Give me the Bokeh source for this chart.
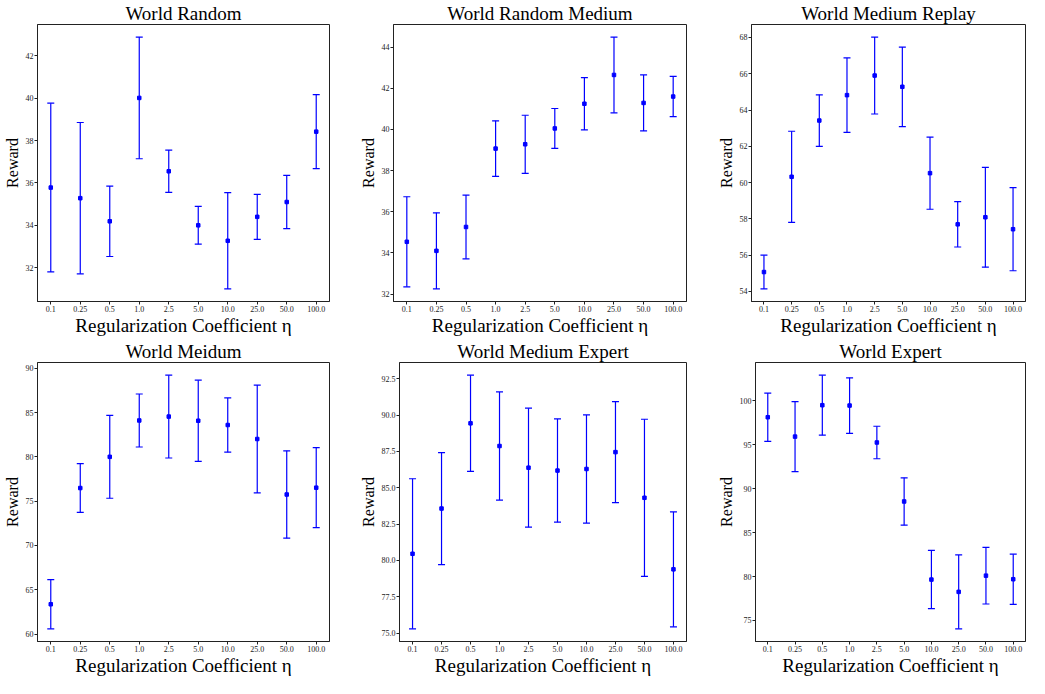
from bokeh.plotting import figure
from bokeh.models import ColumnDataSource, Whisker, TeeHead, Range1d, FactorRange, FixedTicker, PrintfTickFormatter
from bokeh.layouts import row, column
from bokeh.embed import file_html
from bokeh.resources import INLINE

etas = ["0.1", "0.25", "0.5", "1.0", "2.5", "5.0", "10.0", "25.0", "50.0", "100.0"]

titles = ["World Random", "World Random Medium", "World Medium Replay",
          "World Meidum", "World Medium Expert", "World Expert"]

random_mean = [35.78, 35.28, 34.19, 40.01, 36.55, 34.00, 33.27, 34.40, 35.10, 38.42]
random_err = [3.98, 3.57, 1.66, 2.87, 1.00, 0.89, 2.27, 1.06, 1.26, 1.75]

random_medium_mean = [34.54, 34.10, 35.26, 39.07, 39.28, 40.05, 41.25, 42.65, 41.29, 41.60]
random_medium_err = [2.19, 1.85, 1.55, 1.35, 1.41, 0.97, 1.27, 1.84, 1.36, 0.98]

medium_replay_mean = [55.07, 60.32, 63.42, 64.82, 65.90, 65.28, 60.52, 57.70, 58.09, 57.43]
medium_replay_err = [0.93, 2.51, 1.42, 2.05, 2.12, 2.19, 1.99, 1.25, 2.75, 2.29]

medium_mean = [63.37, 76.48, 80.00, 84.10, 84.54, 84.07, 83.59, 82.01, 75.75, 76.52]
medium_err = [2.77, 2.75, 4.67, 2.99, 4.67, 4.58, 3.06, 6.08, 4.93, 4.51]

medium_expert_mean = [80.46, 83.57, 89.43, 87.87, 86.38, 86.18, 86.29, 87.45, 84.31, 79.39]
medium_expert_err = [5.16, 3.85, 3.31, 3.72, 4.09, 3.55, 3.72, 3.47, 5.40, 3.95]

expert_mean = [98.15, 95.94, 99.52, 99.48, 95.27, 88.55, 79.65, 78.25, 80.10, 79.69]
expert_err = [2.75, 3.99, 3.42, 3.16, 1.85, 2.70, 3.32, 4.21, 3.23, 2.86]

yticks_random = [32, 34, 36, 38, 40, 42]
yticks_random_medium = [32, 34, 36, 38, 40, 42, 44]
yticks_medium_replay = [54, 56, 58, 60, 62, 64, 66, 68]
yticks_medium = [60, 65, 70, 75, 80, 85, 90]
yticks_medium_expert = [75.0, 77.5, 80.0, 82.5, 85.0, 87.5, 90.0, 92.5]
yticks_expert = [75, 80, 85, 90, 95, 100]

panels = [
    (titles[0], random_mean, random_err, yticks_random, "%d"),
    (titles[1], random_medium_mean, random_medium_err, yticks_random_medium, "%d"),
    (titles[2], medium_replay_mean, medium_replay_err, yticks_medium_replay, "%d"),
    (titles[3], medium_mean, medium_err, yticks_medium, "%d"),
    (titles[4], medium_expert_mean, medium_expert_err, yticks_medium_expert, "%.1f"),
    (titles[5], expert_mean, expert_err, yticks_expert, "%d"),
]

SERIF = "Liberation Serif"
BLUE = "#0000ff"

# layout geometry: (width, min_border_left, min_border_right) per column
cols = [(356, 30, 27), (358, 32, 28), (315, 32, 4)]
# (height, min_border_top, min_border_bottom) per row
rows_geo = [(338, 16, 30), (340, 22, 30)]


def make_panel(idx, title, mean, err, yticks, fmt):
    ci, ri = idx % 3, idx // 3
    w, bl, br = cols[ci]
    h, bt, bb = rows_geo[ri]
    lower = [m - e for m, e in zip(mean, err)]
    upper = [m + e for m, e in zip(mean, err)]
    lo, hi = min(lower), max(upper)
    pad = 0.05 * (hi - lo)
    p = figure(width=w, height=h, output_backend="svg", toolbar_location=None,
               x_range=FactorRange(*etas, range_padding=-0.05, range_padding_units="absolute"),
               y_range=Range1d(lo - pad, hi + pad),
               min_border_left=bl, min_border_right=br, min_border_top=bt, min_border_bottom=bb,
               background_fill_color="white", border_fill_color="white")
    p.title.text = title
    p.title.text_font = SERIF
    p.title.text_font_size = "19px"
    p.title.text_font_style = "normal"
    p.title.align = "center"
    p.title.text_color = "black"
    p.title.standoff = 1
    p.grid.visible = False
    p.outline_line_color = "#222222"
    p.outline_line_width = 1
    for ax in (p.xaxis[0], p.yaxis[0]):
        ax.axis_line_color = "#222222"
        ax.major_tick_line_color = "#222222"
        ax.major_tick_out = 3
        ax.major_tick_in = 0
        ax.minor_tick_line_color = None
        ax.major_label_text_font = SERIF
        ax.major_label_text_font_size = "8px"
        ax.major_label_text_color = "#222222"
        ax.major_label_standoff = 1
        ax.axis_label_text_font = SERIF
        ax.axis_label_text_font_style = "normal"
        ax.axis_label_text_color = "black"
        ax.axis_label_standoff = 0
    p.yaxis.axis_label_standoff = 2
    p.xaxis.axis_label = "Regularization Coefficient \u03b7"
    p.xaxis.axis_label_text_font_size = "19px"
    p.yaxis.axis_label = "Reward"
    p.yaxis.axis_label_text_font_size = "16px"
    p.yaxis.ticker = FixedTicker(ticks=yticks)
    p.yaxis.formatter = PrintfTickFormatter(format=fmt)

    src = ColumnDataSource(dict(x=etas, y=mean, lower=lower, upper=upper))
    wh = Whisker(source=src, base="x", lower="lower", upper="upper", dimension="height",
                 line_color=BLUE, line_width=1.2,
                 upper_head=TeeHead(size=7, line_color=BLUE, line_width=1.2),
                 lower_head=TeeHead(size=7, line_color=BLUE, line_width=1.2))
    p.add_layout(wh)
    p.scatter("x", "y", source=src, marker="square", size=3.5, color=BLUE)
    return p


figs = [make_panel(i, *pn) for i, pn in enumerate(panels)]
layout = column(row(*figs[:3]), row(*figs[3:]))

open("out.html", "w").write(file_html(layout, INLINE))
